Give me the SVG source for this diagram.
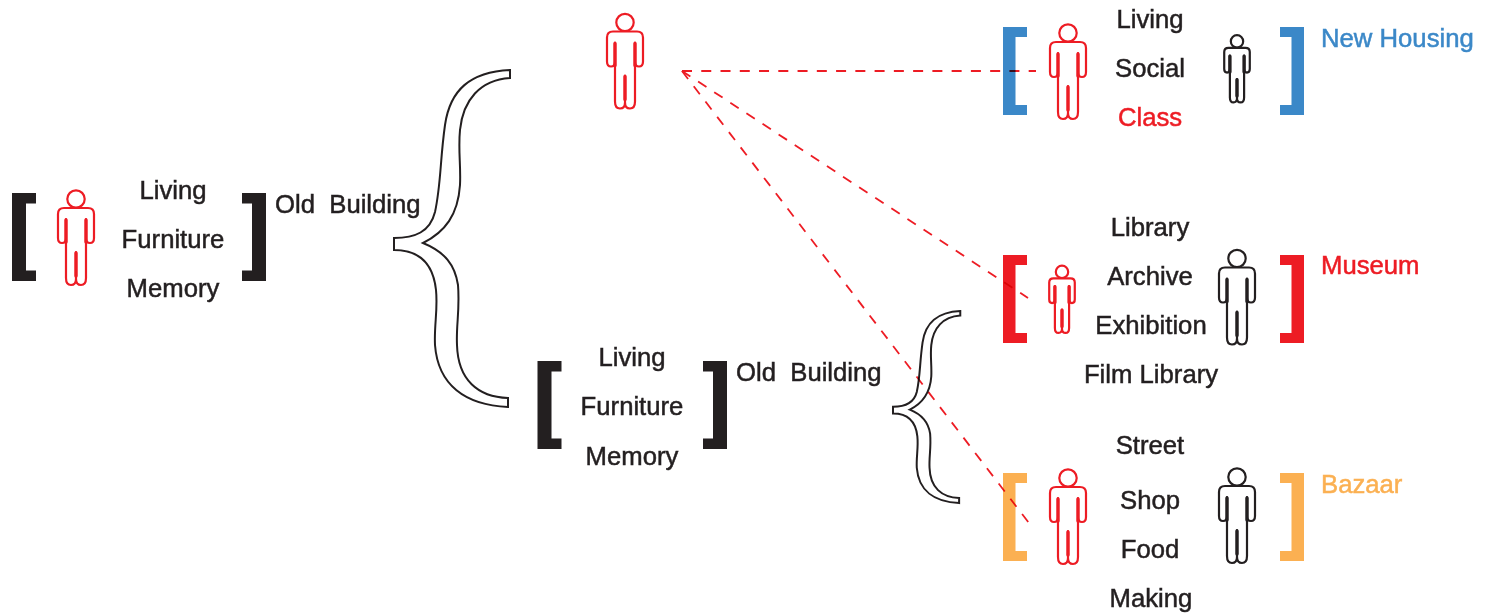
<svg xmlns="http://www.w3.org/2000/svg" width="1491" height="613" viewBox="0 0 1491 613">
<style>
text{font-family:"Liberation Sans",Arial,sans-serif;font-size:25.7px;fill:#231f20;stroke:#231f20;stroke-width:.5px;text-anchor:middle;white-space:pre}
text.l{text-anchor:start}
text.red{fill:#ed1c24;stroke:#ed1c24}
text.blue{fill:#3b88c8;stroke:#3b88c8}
text.orange{fill:#fbb052;stroke:#fbb052}
.p{fill:#fff;stroke-width:2.2;stroke-linejoin:round;vector-effect:non-scaling-stroke}
.in{fill:none;stroke-width:3.4;stroke-linecap:round;vector-effect:non-scaling-stroke}
.pr{stroke:#ed1c24}
.pk{stroke:#231f20}
#brace{fill:#fff;stroke:#231f20;stroke-width:2;vector-effect:non-scaling-stroke}
#connectors{fill:none;stroke:#ed1c24;stroke-width:1.8;stroke-dasharray:10 9.26;mix-blend-mode:multiply}
</style>
<defs>
<g id="person">
<circle class="p" cx="0" cy="9" r="8.7" style="stroke:inherit"/>
<path class="p" style="stroke:inherit" d="M-10 29V88Q-10 95-5 95Q0 95 0 89V62V89Q0 95 5 95Q10 95 10 88V29V48Q10 53 14 53Q18 53 18 48V24Q18 18 12 18H-12Q-18 18-18 24V48Q-18 53-14 53Q-10 53-10 48Z"/>
<path class="in" style="stroke:inherit" d="M-10 30V52M10 30V52M0 63V86"/>
</g>
<path id="brace" d="M510 70C470 72 450 90 445 125C440 160 441 185 435 212C430 232 415 238 394 238V250C418 250 433 262 436 290C438 310 434 325 435 345C438 385 465 405 508 407V398C478 397 458 380 457 345C456 325 460 310 458 285C455 265 445 252 423 243C445 232 458 215 460 185C461 165 458 150 460 130C463 100 480 80 510 78Z"/>
<path id="bl" d="M0 0H24V10H12.500V78H24V88H0Z"/>
<path id="br" d="M24 0H0V10H11.500V78H0V88H24Z"/>
<path id="blk" d="M0 0H24V10.500H14V77.500H24V88H0Z"/>
<path id="brk" d="M24 0H0V10.500H10V77.500H0V88H24Z"/>
</defs>
<g id="node-old-building-1">
<use href="#blk" x="12" y="193" fill="#231f20"/><use href="#person" transform="translate(76 190)" class="pr"/>
<text x="173" y="199">Living</text><text x="173" y="248">Furniture</text><text x="173" y="297">Memory</text>
<use href="#brk" x="242" y="193" fill="#231f20"/><text class="l" x="275" y="213">Old  Building</text>
</g>
<g id="node-brace-1"><use href="#brace"/></g>
<g id="node-person-top"><use href="#person" transform="translate(625 13.500)" class="pr"/></g>
<g id="node-old-building-2">
<use href="#blk" x="537.500" y="361" fill="#231f20"/>
<text x="632" y="366">Living</text><text x="632" y="415">Furniture</text><text x="632" y="465">Memory</text>
<use href="#brk" x="703" y="361" fill="#231f20"/><text class="l" x="736" y="381">Old  Building</text>
</g>
<g id="node-brace-2"><use href="#brace" transform="translate(893 311) scale(.58 .57) translate(-394 -70)"/></g>
<g id="node-new-housing">
<use href="#bl" x="1003" y="27" fill="#3b88c8"/><use href="#person" transform="translate(1068 24)" class="pr"/>
<text x="1150" y="28">Living</text><text x="1150" y="77">Social</text><text class="red" x="1150" y="126">Class</text>
<use href="#person" transform="translate(1237 35) scale(.71)" class="pk"/>
<use href="#br" x="1280" y="27" fill="#3b88c8"/><text class="l blue" x="1321" y="47">New Housing</text>
</g>
<g id="node-museum">
<use href="#bl" x="1003" y="255" fill="#ed1c24"/><use href="#person" transform="translate(1062 265.500) scale(.71)" class="pr"/>
<text x="1150" y="236">Library</text><text x="1150" y="285">Archive</text><text x="1151" y="334">Exhibition</text><text x="1151" y="383">Film Library</text>
<use href="#person" transform="translate(1237 249.500)" class="pk"/>
<use href="#br" x="1280" y="255" fill="#ed1c24"/><text class="l red" x="1321" y="274">Museum</text>
</g>
<g id="node-bazaar">
<use href="#bl" x="1003" y="473" fill="#fbb052"/><use href="#person" transform="translate(1068 469)" class="pr"/>
<text x="1150" y="454">Street</text><text x="1150" y="509">Shop</text><text x="1150" y="558">Food</text><text x="1151" y="607">Making</text>
<use href="#person" transform="translate(1237 468)" class="pk"/>
<use href="#br" x="1280" y="473" fill="#fbb052"/><text class="l orange" x="1321" y="493">Bazaar</text>
</g>
<g id="connectors">
<path d="M682 71H1036"/><path d="M682 71L1028 298"/><path d="M682 71L1028.200 522"/>
</g>
</svg>
